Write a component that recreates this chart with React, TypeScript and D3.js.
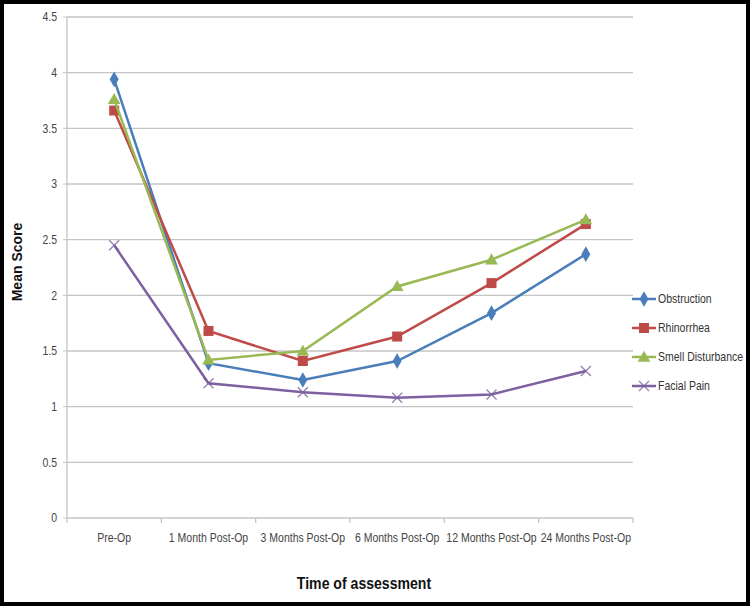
import React from "react";
import * as d3 from "d3";

const categories = ["Pre-Op", "1 Month Post-Op", "3 Months Post-Op", "6 Months Post-Op", "12 Months Post-Op", "24 Months Post-Op"];
const obstruction = [3.94, 1.39, 1.24, 1.41, 1.84, 2.37];
const rhinorrhea = [3.66, 1.68, 1.41, 1.63, 2.11, 2.64];
const smellDisturbance = [3.76, 1.42, 1.5, 2.08, 2.32, 2.68];
const facialPain = [2.45, 1.21, 1.13, 1.08, 1.11, 1.32];
const yTicks = [0, 0.5, 1, 1.5, 2, 2.5, 3, 3.5, 4, 4.5];

const seriesList = [
  { name: "Obstruction", values: obstruction, color: "#4A7EBB", marker: "diamond" },
  { name: "Rhinorrhea", values: rhinorrhea, color: "#BE4B48", marker: "square" },
  { name: "Smell Disturbance", values: smellDisturbance, color: "#98B954", marker: "triangle" },
  { name: "Facial Pain", values: facialPain, color: "#7D60A0", marker: "x" },
];

const W = 750, H = 606;
const plot = { left: 67, right: 633, top: 17, bottom: 518 };
const font = "'Liberation Sans', Arial, sans-serif";
const SX = 0.84;

function NarrowText({ x, y, anchor, children, size = 12.5, fill = "#444", dy = "0" }: any) {
  return (
    <text
      transform={`translate(${x},${y}) scale(${SX},1)`}
      dy={dy}
      textAnchor={anchor}
      fontFamily={font}
      fontSize={size}
      fill={fill}
    >
      {children}
    </text>
  );
}

function Marker({ type, x, y, color }: { type: string; x: number; y: number; color: string }) {
  if (type === "diamond") {
    const p = d3.symbol(d3.symbolDiamond, 70)();
    return <path d={p || ""} transform={`translate(${x},${y})`} fill={color} />;
  }
  if (type === "square") {
    return <rect x={x - 5} y={y - 5} width={10} height={10} fill={color} />;
  }
  if (type === "triangle") {
    const p = d3.symbol(d3.symbolTriangle, 70)();
    return <path d={p || ""} transform={`translate(${x},${y + 1})`} fill={color} />;
  }
  return (
    <g stroke={color} strokeWidth={1.3} opacity={0.8}>
      <line x1={x - 5} y1={y - 5} x2={x + 5} y2={y + 5} />
      <line x1={x - 5} y1={y + 5} x2={x + 5} y2={y - 5} />
    </g>
  );
}

export default function App() {
  const x = d3.scaleBand<string>().domain(categories).range([plot.left, plot.right]);
  const y = d3.scaleLinear().domain([0, 4.5]).range([plot.bottom, plot.top]);
  const cx = (c: string) => (x(c) as number) + x.bandwidth() / 2;
  const line = d3.line<number>().x((_, i) => cx(categories[i])).y((d) => y(d));
  const boundaries = categories.map((c) => x(c) as number).concat([plot.right]);
  const legendY = [299, 328, 357, 386];

  return (
    <svg width={W} height={H} style={{ position: "absolute", left: 0, top: 0 }}>
      <rect x={0} y={0} width={W} height={H} fill="#000" />
      <rect x={4} y={4} width={W - 8} height={H - 8} fill="#fff" />
      {yTicks.map((t) => (
        <g key={t}>
          <line x1={plot.left} x2={plot.right} y1={y(t)} y2={y(t)} stroke="#c4c4c4" strokeWidth={1.3} />
          <line x1={plot.left - 4} x2={plot.left} y1={y(t)} y2={y(t)} stroke="#c4c4c4" />
          <NarrowText x={57} y={y(t)} dy="0.35em" anchor="end">
            {t}
          </NarrowText>
        </g>
      ))}
      <line x1={plot.left} x2={plot.left} y1={plot.top} y2={plot.bottom} stroke="#c4c4c4" strokeWidth={1.3} />
      {boundaries.map((b, i) => (
        <line key={i} x1={b} x2={b} y1={plot.bottom} y2={plot.bottom + 5} stroke="#c4c4c4" strokeWidth={1.3} />
      ))}
      {categories.map((c) => (
        <NarrowText key={c} x={cx(c)} y={542} anchor="middle">
          {c}
        </NarrowText>
      ))}
      {seriesList.map((s) => (
        <g key={s.name}>
          <path d={line(s.values) || ""} fill="none" stroke={s.color} strokeWidth={2.5} />
          {s.values.map((v, i) => (
            <Marker key={i} type={s.marker} x={cx(categories[i])} y={y(v)} color={s.color} />
          ))}
        </g>
      ))}
      {seriesList.map((s, i) => (
        <g key={s.name}>
          <line x1={632} x2={656} y1={legendY[i]} y2={legendY[i]} stroke={s.color} strokeWidth={2.5} />
          <Marker type={s.marker} x={644} y={legendY[i]} color={s.color} />
          <NarrowText x={658} y={legendY[i]} dy="0.35em" anchor="start" fill="#333">
            {s.name}
          </NarrowText>
        </g>
      ))}
      <text
        transform={`translate(22,${262}) rotate(-90)`}
        textAnchor="middle"
        fontFamily={font}
        fontWeight="bold"
        fontSize={14}
        fill="#111"
      >
        Mean Score
      </text>
      <text
        transform={`translate(364,589) scale(0.88,1)`}
        textAnchor="middle"
        fontFamily={font}
        fontWeight="bold"
        fontSize={16}
        fill="#111"
      >
        Time of assessment
      </text>
    </svg>
  );
}
